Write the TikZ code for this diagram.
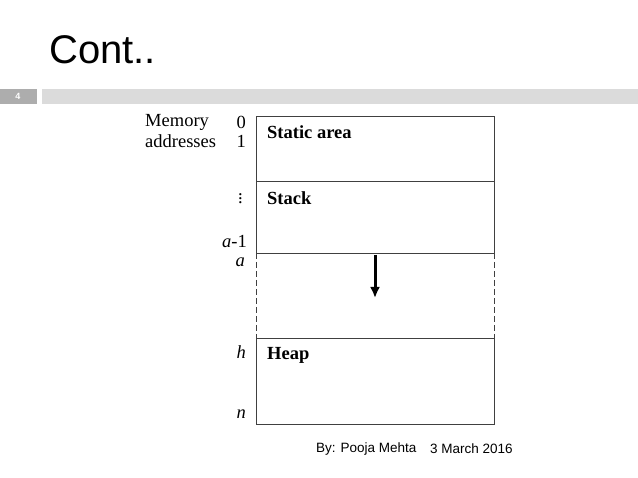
\documentclass[tikz,border=0pt]{standalone}
\usepackage{fontspec}
\usetikzlibrary{arrows.meta}
\setmainfont{Liberation Serif}
\newfontfamily\arial{Liberation Sans}
\begin{document}
\begin{tikzpicture}[x=1pt,y=-1pt,
  lbl/.style={inner sep=0pt,font=\fontsize{18.5}{18.5}\selectfont},
  bl/.style={inner sep=0pt,anchor=west,font=\fontsize{18.5}{18.5}\selectfont\bfseries},
  edge/.style={line width=0.8pt,draw=black!75}]
\useasboundingbox (0,0) rectangle (638,478);
\node[anchor=west,inner sep=0pt,font=\arial\fontsize{40}{40}\selectfont] (title) at (49,50) {Cont..};
\fill[black!32] (0,89) rectangle (37,104);
\node[inner sep=0pt,text=white,font=\arial\fontsize{9}{9}\selectfont\bfseries] (num) at (18,96.5) {4};
\fill[black!14] (42,89) rectangle (638,104);
\coordinate (tl) at (256,116); \coordinate (tr) at (494,116);
\coordinate (s1l) at (256,181); \coordinate (s1r) at (494,181);
\coordinate (s2l) at (256,253); \coordinate (s2r) at (494,253);
\coordinate (s3l) at (256,338); \coordinate (s3r) at (494,338);
\coordinate (bl) at (256,424); \coordinate (br) at (494,424);
\draw[edge] (s2l) -- (tl) -- (tr) -- (s2r) -- (s2l);
\draw[edge] (s1l) -- (s1r);
\draw[edge,dash pattern=on 6pt off 3pt] (s2l) -- (s3l) (s2r) -- (s3r);
\draw[edge] (s3l) rectangle (br);
\node[bl] (static) at (267,132) {Static area};
\node[bl] (stack) at (267,198) {Stack};
\node[bl] (heap) at (267,355) {Heap};
\coordinate (a1) at (375,255); \coordinate (a2) at (375,298);
\draw[line width=3pt,-{Latex[length=11pt,width=10pt]}] (a1) -- (a2);
\node[lbl,anchor=west] (mem) at (145,122) {Memory};
\node[lbl,anchor=west] (addr) at (145,141) {addresses};
\node[lbl,anchor=east] (z) at (246,122) {0};
\node[lbl,anchor=east] (o) at (246,141) {1};
\node[lbl,anchor=east] (d) at (243,196) {$\vdots$};
\node[lbl,anchor=east] (am) at (247,241) {\textit{a}-1};
\node[lbl,anchor=east] (a) at (245,262) {\textit{a}};
\node[lbl,anchor=east] (h) at (246,352) {\textit{h}};
\node[lbl,anchor=east] (n) at (246,414) {\textit{n}};
\node[anchor=west,inner sep=0pt,font=\arial\fontsize{13.5}{13.5}\selectfont] (by) at (316,449) {By: Pooja Mehta};
\node[anchor=west,inner sep=0pt,font=\arial\fontsize{13.5}{13.5}\selectfont] (date) at (430,449) {3 March 2016};
\end{tikzpicture}
\end{document}
